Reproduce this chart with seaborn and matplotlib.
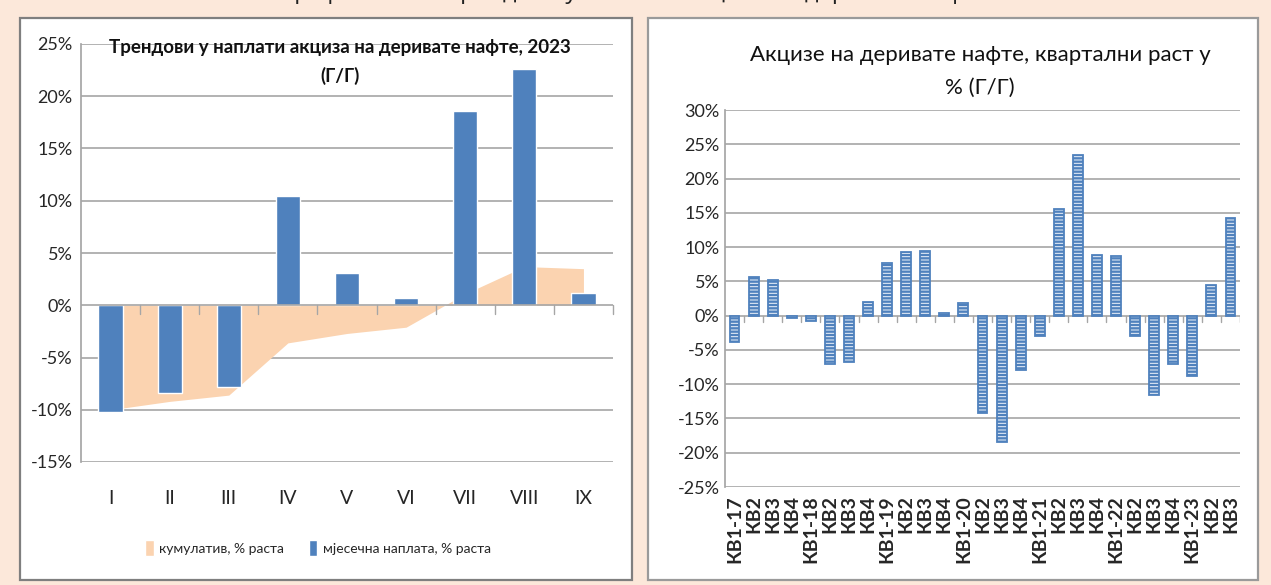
import numpy as np
import matplotlib
matplotlib.use('Agg')
import matplotlib.pyplot as plt
import seaborn as sns
from matplotlib.patches import Rectangle, Patch
import warnings

warnings.filterwarnings('ignore')

# left chart data (2023, y/y %)
months = ['I', 'II', 'III', 'IV', 'V', 'VI', 'VII', 'VIII', 'IX']
monthly = [-10.2, -8.4, -7.8, 10.5, 3.1, 0.7, 18.6, 22.6, 1.2]
cumulative = [-10.0, -9.2, -8.6, -3.6, -2.7, -2.1, 1.1, 3.7, 3.5]

# right chart data (quarterly y/y %)
quarters = ['КВ1-17', 'КВ2', 'КВ3', 'КВ4', 'КВ1-18', 'КВ2', 'КВ3', 'КВ4',
            'КВ1-19', 'КВ2', 'КВ3', 'КВ4', 'КВ1-20', 'КВ2', 'КВ3', 'КВ4',
            'КВ1-21', 'КВ2', 'КВ3', 'КВ4', 'КВ1-22', 'КВ2', 'КВ3', 'КВ4',
            'КВ1-23', 'КВ2', 'КВ3']
quarterly = [-3.8, 5.7, 5.2, -0.3, -0.8, -7.0, -6.7, 2.0, 7.7, 9.3, 9.5,
             0.4, 1.8, -14.2, -18.4, -7.9, -3.0, 15.5, 23.4, 8.8, 8.7,
             -3.0, -11.6, -7.0, -8.8, 4.5, 14.2]

sns.set_theme(style='white')
plt.rcParams['font.family'] = ['Lato', 'DejaVu Sans']
plt.rcParams['hatch.linewidth'] = 1.7

peach_bg = '#fce8da'
blue = '#4f81bd'
area_col = '#fbd3b0'
grid_col = '#a6a6a6'
narrow = ['Lato', 'DejaVu Sans']

fig = plt.figure(figsize=(12.71, 5.85), dpi=100)
fig.patch.set_facecolor(peach_bg)

W, H = 1271, 585
def fx(px):
    return px / W
def fy(py):
    return 1 - py / H

# white panels
for x0, x1, ec in [(20, 632, '#7f7f7f'), (648, 1258, '#9a9a9a')]:
    fig.patches.append(Rectangle((fx(x0), fy(580)), fx(x1 - x0), (580 - 18) / H,
                                 transform=fig.transFigure, facecolor='white',
                                 edgecolor=ec, linewidth=1.6, zorder=-5))

# cut-off figure caption at the very top
fig.text(0.5, fy(-8), 'Графикон 8.7: Трендови у наплати акциза на деривате нафте',
         ha='center', va='center', fontsize=17, color='#222222', family=['Open Sans', 'DejaVu Sans'])

# ---------------- left chart ----------------
ax1 = fig.add_axes([fx(81), fy(462), fx(613 - 81), (462 - 44) / H])
ax1.set_facecolor('none')
xpos = np.arange(len(months))
ax1.fill_between(xpos, cumulative, 0, color=area_col, linewidth=0, zorder=1)
sns.barplot(x=xpos, y=monthly, color=blue, width=0.41, saturation=1, ax=ax1, zorder=2)
ax1.set_xlim(-0.5, len(months) - 0.5)
ax1.set_ylim(-15, 25)
ax1.set_yticks(np.arange(-15, 26, 5))
ax1.set_yticklabels([f'{v}%' for v in range(-15, 26, 5)], family=narrow, fontsize=13)
for v in range(-15, 26, 5):
    if v != 0:
        ax1.axhline(v, color=grid_col, lw=1.2, zorder=0)
ax1.axhline(0, color=grid_col, lw=1.2, zorder=3)
for b in np.arange(0.5, len(months), 1):
    ax1.plot([b, b], [0, -0.8], color=grid_col, lw=1, zorder=3, clip_on=False)
ax1.set_xticks(xpos)
ax1.set_xticklabels(months, family=narrow, fontsize=14)
ax1.tick_params(axis='x', length=0, pad=20)
ax1.tick_params(axis='y', length=0, pad=6)
for s in ['top', 'right', 'bottom']:
    ax1.spines[s].set_visible(False)
ax1.spines['left'].set_color(grid_col)
ax1.set_xlabel('')
ax1.text(0.487, 1.012, 'Трендови у наплати акциза на деривате нафте, 2023\n(Г/Г)',
         transform=ax1.transAxes, ha='center', va='top', fontsize=13.5, fontweight='bold',
         family=narrow, linespacing=1.7, color='#111111')
handles = [Patch(facecolor=area_col, label='кумулатив, % раста'),
           Patch(facecolor=blue, label='мјесечна наплата, % раста')]
fig.legend(handles=handles, loc='center', bbox_to_anchor=(fx(318), fy(548)), ncol=2,
           frameon=False, prop={'family': narrow, 'size': 10}, handlelength=0.6,
           handleheight=1.3, columnspacing=1.8, handletextpad=0.4)

# ---------------- right chart ----------------
ax2 = fig.add_axes([fx(725), fy(487), fx(1240 - 725), (487 - 110) / H])
ax2.set_facecolor('none')
qpos = np.arange(len(quarters))
sns.barplot(x=qpos, y=quarterly, color='#eef3fa', width=0.52, saturation=1, ax=ax2,
            edgecolor=blue, linewidth=1.3, hatch='-----', zorder=2)
ax2.set_xlim(-0.5, len(quarters) - 0.5)
ax2.set_ylim(-25, 30)
ax2.set_yticks(np.arange(-25, 31, 5))
ax2.set_yticklabels([f'{v}%' for v in range(-25, 31, 5)], fontsize=13)
for v in range(-25, 31, 5):
    ax2.axhline(v, color=grid_col, lw=1.2, zorder=0)
for b in np.arange(0.5, len(quarters), 1):
    ax2.plot([b, b], [0, -0.9], color=grid_col, lw=1, zorder=3)
ax2.set_xticks(qpos)
ax2.set_xticklabels(quarters, rotation=90, fontsize=14, fontweight='bold')
ax2.tick_params(axis='x', length=0, pad=6)
ax2.tick_params(axis='y', length=0, pad=4)
for s in ['top', 'right', 'bottom']:
    ax2.spines[s].set_visible(False)
ax2.spines['left'].set_color(grid_col)
ax2.set_xlabel('')
fig.text(fx(980), fy(55), 'Акцизе на деривате нафте, квартални раст у',
         ha='center', va='center', fontsize=16, color='#111111')
fig.text(fx(980), fy(88), '% (Г/Г)', ha='center', va='center', fontsize=16, color='#111111')

fig.savefig('out.png', dpi=100, facecolor=fig.get_facecolor())
